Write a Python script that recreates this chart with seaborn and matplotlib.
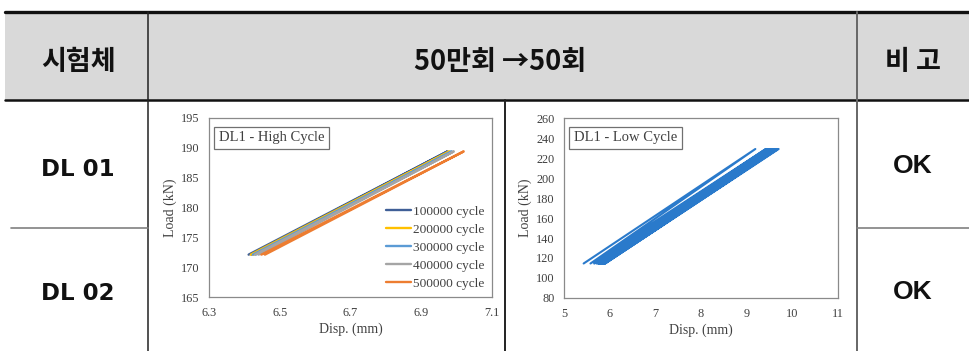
import numpy as np
import pandas as pd
import seaborn as sns
import matplotlib.pyplot as plt
from matplotlib.lines import Line2D
from matplotlib.patches import Rectangle

# Table text
header_labels = ["시험체", "50만회 →50회", "비 고"]
specimen_labels = ["DL 01", "DL 02"]
remark_labels = ["OK", "OK"]

# High cycle chart (DL1): one loop per series, load range in kN, disp in mm
hc_labels = ["100000 cycle", "200000 cycle", "300000 cycle", "400000 cycle", "500000 cycle"]
hc_colors = ["#3F5F97", "#FFC000", "#5B9BD5", "#A5A5A5", "#ED7D31"]
hc_load_min = 172.1
hc_load_max = 189.4
hc_disp_up_start = [6.412, 6.418, 6.424, 6.430, 6.448]
hc_disp_up_end = [6.974, 6.980, 6.986, 6.992, 7.020]
hc_disp_down_end = [6.420, 6.426, 6.432, 6.440, 6.458]

# Low cycle chart (DL1): loading/unloading peaks of the visible cycles
lc_load_min = 114.5
lc_load_max = 229.0
lc_disp_min = [5.43, 5.58, 5.66, 5.71, 5.74, 5.76, 5.77, 5.78, 5.79, 5.80, 5.81, 5.82,
               5.83, 5.84, 5.85, 5.86, 5.87, 5.88, 5.89, 5.90]
lc_disp_max = [9.19, 9.42, 9.46, 9.49, 9.51, 9.53, 9.54, 9.55, 9.56, 9.57, 9.58, 9.59,
               9.60, 9.61, 9.62, 9.63, 9.64, 9.66, 9.68, 9.70]

sns.set_theme(style="white")
plt.rcParams["font.family"] = ["Liberation Serif", "DejaVu Serif"]

W, H = 969, 351
fig = plt.figure(figsize=(W / 100, H / 100), dpi=100)

# ---- table background / grid
tab = fig.add_axes([0, 0, 1, 1])
tab.set_xlim(0, W)
tab.set_ylim(H, 0)
tab.axis("off")
tab.add_patch(Rectangle((5, 13), W - 5, 87, facecolor="#D9D9D9", edgecolor="none"))
tab.add_line(Line2D([5, W], [11.5, 11.5], color="#111111", lw=2.4))
tab.add_line(Line2D([5, W], [100, 100], color="#111111", lw=1.8))
tab.add_line(Line2D([148, 148], [12, H], color="#222222", lw=1.1))
tab.add_line(Line2D([857, 857], [12, H], color="#666666", lw=1.4))
tab.add_line(Line2D([505, 505], [100, H], color="#222222", lw=1.4))
tab.add_line(Line2D([11, 148], [227.5, 227.5], color="#808080", lw=1.2))
tab.add_line(Line2D([857, W], [227.5, 227.5], color="#808080", lw=1.2))

kfont = ["Noto Sans CJK KR", "DejaVu Sans"]
for x, txt in zip([78, 500, 913], header_labels):
    tab.text(x, 62, txt, ha="center", va="center", fontsize=19.5, fontweight="bold",
             family=kfont, color="#111111")
for y, txt in zip([170, 293], specimen_labels):
    tab.text(78, y, txt, ha="center", va="center", fontsize=16.5, fontweight="bold",
             family=["DejaVu Sans"], color="#111111")
for y, txt in zip([166, 292], remark_labels):
    tab.text(913, y, txt, ha="center", va="center", fontsize=19, fontweight="bold",
             family=["Liberation Sans", "DejaVu Sans"], color="#111111")


def chart_axes(left, right, top, bottom):
    ax = fig.add_axes([left / W, 1 - bottom / H, (right - left) / W, (bottom - top) / H])
    ax.set_facecolor("white")
    for s in ax.spines.values():
        s.set_color("#8a8a8a")
        s.set_linewidth(0.9)
    ax.tick_params(direction="in", length=3, width=0.8, color="#8a8a8a",
                   labelsize=8.8, labelcolor="#404040", pad=7)
    return ax


def title_box(ax, txt):
    ax.text(0.035, 0.89, txt, transform=ax.transAxes, fontsize=10.5,
            color="#404040", va="center",
            bbox=dict(boxstyle="square,pad=0.32", fc="white", ec="#707070", lw=0.9))


# ---- high cycle chart
hc_rows = []
for lab, a, b, c in zip(hc_labels, hc_disp_up_start, hc_disp_up_end, hc_disp_down_end):
    hc_rows += [(lab, 0, a, hc_load_min), (lab, 1, b, hc_load_max), (lab, 2, c, hc_load_min)]
hc_df = pd.DataFrame(hc_rows, columns=["series", "step", "disp", "load"])

ax1 = chart_axes(209, 492, 118, 297)
sns.lineplot(data=hc_df, x="disp", y="load", hue="series", palette=hc_colors,
             sort=False, estimator=None, units="series", lw=1.7, ax=ax1)
ax1.set_xlim(6.3, 7.1)
ax1.set_ylim(165, 195)
ax1.set_xticks([6.3, 6.5, 6.7, 6.9, 7.1])
ax1.set_yticks(np.arange(165, 196, 5))
ax1.set_xlabel("Disp. (mm)", fontsize=10, color="#404040", labelpad=3)
ax1.set_ylabel("Load (kN)", fontsize=10, color="#404040", labelpad=3)
ax1.legend(loc="lower right", frameon=False, fontsize=9.6, handlelength=1.9,
           handletextpad=0.15, labelspacing=0.42, borderaxespad=0.15,
           labelcolor="#404040")
title_box(ax1, "DL1 - High Cycle")

# ---- low cycle chart
lc_x, lc_y = [], []
for a, b in zip(lc_disp_min, lc_disp_max):
    lc_x += [a, b]
    lc_y += [lc_load_min, lc_load_max]
lc_df = pd.DataFrame({"disp": lc_x, "load": lc_y})

ax2 = chart_axes(564, 838, 118, 298)
sns.lineplot(data=lc_df, x="disp", y="load", sort=False, estimator=None,
             color="#2A7ACB", lw=1.5, ax=ax2)
ax2.set_xlim(5, 11)
ax2.set_ylim(80, 260)
ax2.set_xticks(range(5, 12))
ax2.set_yticks(range(80, 261, 20))
ax2.set_xlabel("Disp. (mm)", fontsize=10, color="#404040", labelpad=3)
ax2.set_ylabel("Load (kN)", fontsize=10, color="#404040", labelpad=3)
title_box(ax2, "DL1 - Low Cycle")

fig.savefig("out.png", dpi=100)
